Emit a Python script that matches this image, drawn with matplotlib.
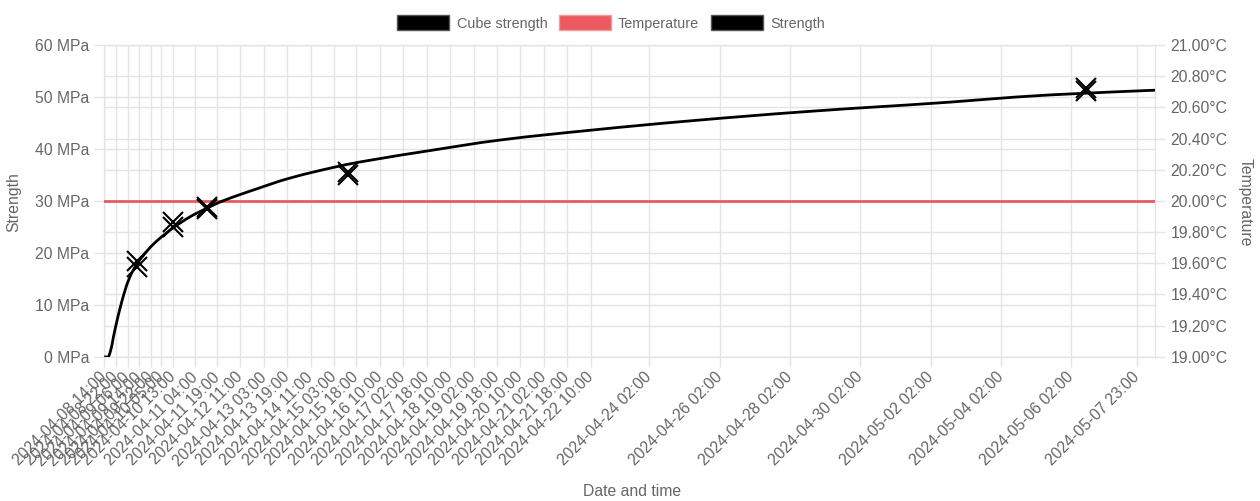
import matplotlib
matplotlib.use("Agg")
import matplotlib.pyplot as plt
import matplotlib.transforms as mtransforms
from matplotlib.patches import Patch, PathPatch
from matplotlib.path import Path
from datetime import datetime
import numpy as np

# ---------------- data ----------------
strength_times = [
    "2024-04-08 14:00", "2024-04-08 17:00", "2024-04-08 21:30", "2024-04-09 02:00",
    "2024-04-09 07:00", "2024-04-09 12:30", "2024-04-09 20:00", "2024-04-10 02:00",
    "2024-04-10 08:00", "2024-04-10 13:00", "2024-04-11 01:00", "2024-04-11 13:00",
    "2024-04-11 23:00", "2024-04-12 22:00", "2024-04-13 21:00", "2024-04-15 05:00",
    "2024-04-16 01:00", "2024-04-17 23:00", "2024-04-19 20:00", "2024-04-22 10:00",
    "2024-04-25 06:00", "2024-04-28 14:00", "2024-05-02 15:00", "2024-05-04 13:00",
    "2024-05-06 10:00", "2024-05-08 11:00",
]
strength_values = [
    0.0, 0.0, 5.4, 10.6,
    15.0, 17.9, 20.6, 22.3,
    23.7, 24.8, 27.0, 28.7,
    30.0, 32.3, 34.4, 36.6,
    37.7, 39.8, 41.7, 43.6,
    45.4, 47.2, 49.0, 50.0,
    50.7, 51.3,
]

cube_times = [
    "2024-04-09 12:30", "2024-04-09 12:30", "2024-04-10 13:00", "2024-04-10 13:00",
    "2024-04-11 12:00", "2024-04-11 12:00", "2024-04-15 12:30", "2024-04-15 12:30",
    "2024-05-06 12:00", "2024-05-06 12:00",
]
cube_values = [18.4, 17.3, 25.9, 24.9, 28.9, 28.4, 35.6, 35.0, 51.8, 51.1]

temp_times = ["2024-04-08 14:00", "2024-05-08 11:00"]
temp_values = [20.0, 20.0]

x_tick_labels = [
    "2024-04-08 14:00", "2024-04-08 22:00", "2024-04-09 06:00", "2024-04-09 14:00",
    "2024-04-09 22:00", "2024-04-10 05:00", "2024-04-10 13:00", "2024-04-11 04:00",
    "2024-04-11 19:00", "2024-04-12 11:00", "2024-04-13 03:00", "2024-04-13 19:00",
    "2024-04-14 11:00", "2024-04-15 03:00", "2024-04-15 18:00", "2024-04-16 10:00",
    "2024-04-17 02:00", "2024-04-17 18:00", "2024-04-18 10:00", "2024-04-19 02:00",
    "2024-04-19 18:00", "2024-04-20 10:00", "2024-04-21 02:00", "2024-04-21 18:00",
    "2024-04-22 10:00", "2024-04-24 02:00", "2024-04-26 02:00", "2024-04-28 02:00",
    "2024-04-30 02:00", "2024-05-02 02:00", "2024-05-04 02:00", "2024-05-06 02:00",
    "2024-05-07 23:00",
]
x_range = ["2024-04-08 14:00", "2024-05-08 11:00"]

strength_ticks = [0, 10, 20, 30, 40, 50, 60]
temp_ticks = [19.0, 19.2, 19.4, 19.6, 19.8, 20.0, 20.2, 20.4, 20.6, 20.8, 21.0]

# ---------------- styling ----------------
FONT = "Liberation Sans"
FS = 11.3
LFS = 10.4
TXT = "#666666"
GRID = "#e4e4e4"
RED = "#ea5a60"

plt.rcParams["font.family"] = [FONT, "DejaVu Sans"]


def P(s):
    return datetime.strptime(s, "%Y-%m-%d %H:%M")


W, H = 1260, 501
fig = plt.figure(figsize=(W / 100, H / 100), dpi=100)
L, R, T, B = 104.2, 1155, 45, 356.7
ax = fig.add_axes([L / W, 1 - B / H, (R - L) / W, (B - T) / H])
ax2 = ax.twinx()
ax.set_zorder(ax2.get_zorder() + 1)
ax.patch.set_visible(False)

ax.set_xlim(P(x_range[0]), P(x_range[1]))
ax2.set_xlim(P(x_range[0]), P(x_range[1]))
ax.set_ylim(0, 60)
ax2.set_ylim(19.0, 21.0)

# temperature (plotted against the right axis scale, drawn in the top axes)
blend = mtransforms.blended_transform_factory(ax.transData, ax2.transData)
ax.plot([P(t) for t in temp_times], temp_values, color=RED, lw=2.0, zorder=3,
        transform=blend)

ax2.set_yticks(temp_ticks)
ax2.set_yticklabels([f"{v:.2f}°C" for v in temp_ticks])
ax2.grid(True, axis="y", color=GRID, lw=1.0)

# strength curve, rendered with Chart.js-like bezier tension through the data points
ax.plot([P(t) for t in strength_times], strength_values, color="none")
pts = ax.transData.transform(
    np.column_stack([ax.convert_xunits([P(t) for t in strength_times]), strength_values]))
tension = 0.4
verts, codes = [tuple(pts[0])], [Path.MOVETO]
cps = []
for i in range(len(pts)):
    prev = pts[i - 1] if i > 0 else pts[i]
    cur = pts[i]
    nxt = pts[i + 1] if i < len(pts) - 1 else pts[i]
    d01 = np.hypot(*(cur - prev))
    d12 = np.hypot(*(nxt - cur))
    tot = d01 + d12 if d01 + d12 > 0 else 1
    fa = tension * d01 / tot
    fb = tension * d12 / tot
    cps.append((cur - fa * (nxt - prev), cur + fb * (nxt - prev)))
for i in range(1, len(pts)):
    verts += [tuple(cps[i - 1][1]), tuple(cps[i][0]), tuple(pts[i])]
    codes += [Path.CURVE4] * 3
curve = PathPatch(Path(verts, codes), facecolor="none", edgecolor="black", lw=2.0,
                  transform=mtransforms.IdentityTransform(), zorder=4)
ax.add_artist(curve)

ax.plot([P(t) for t in cube_times], cube_values, linestyle="none", marker="x",
        markersize=14, markeredgewidth=1.5, color="black", zorder=5)
ax.set_yticks(strength_ticks)
ax.set_yticklabels([f"{v} MPa" for v in strength_ticks])
ax.grid(True, axis="y", color=GRID, lw=1.0)

ax.set_xticks([P(t) for t in x_tick_labels])
ax.set_xticklabels(x_tick_labels, rotation=45, ha="right", va="center",
                   rotation_mode="anchor")
ax.grid(True, axis="x", color=GRID, lw=1.0)

for a in (ax, ax2):
    for s in a.spines.values():
        s.set_color(GRID)
    a.tick_params(colors=GRID, labelcolor=TXT, labelsize=FS, length=7, width=1.0)
ax.tick_params(axis="y", pad=3.5)
ax2.tick_params(axis="y", pad=4)
ax.tick_params(axis="x", pad=6)
for lab in ax.get_xticklabels() + ax.get_yticklabels() + ax2.get_yticklabels():
    lab.set_fontfamily(FONT)

# axis titles
fig.text(14 / W, 1 - 202 / H, "Strength", rotation=90, ha="center", va="center",
         color=TXT, fontsize=FS, fontfamily=FONT)
fig.text(1245 / W, 1 - 202 / H, "Temperature", rotation=-90, ha="center", va="center",
         color=TXT, fontsize=FS, fontfamily=FONT)
fig.text(632 / W, 1 - 492 / H, "Date and time", ha="center", va="center",
         color=TXT, fontsize=FS, fontfamily=FONT)

# legend
handles = [
    Patch(facecolor="black", edgecolor="#555555", lw=1.0, label="Cube strength"),
    Patch(facecolor=RED, edgecolor="#f29a9e", lw=1.0, label="Temperature"),
    Patch(facecolor="black", edgecolor="#555555", lw=1.0, label="Strength"),
]
leg = fig.legend(handles=handles, loc="center", bbox_to_anchor=(611 / W, 1 - 23 / H),
                 ncol=3, frameon=False, handlelength=3.6,
                 handleheight=1.2, handletextpad=0.5, columnspacing=0.8,
                 borderpad=0, prop={"family": FONT, "size": LFS})
for t in leg.get_texts():
    t.set_color(TXT)

fig.savefig("out.png", dpi=100)
